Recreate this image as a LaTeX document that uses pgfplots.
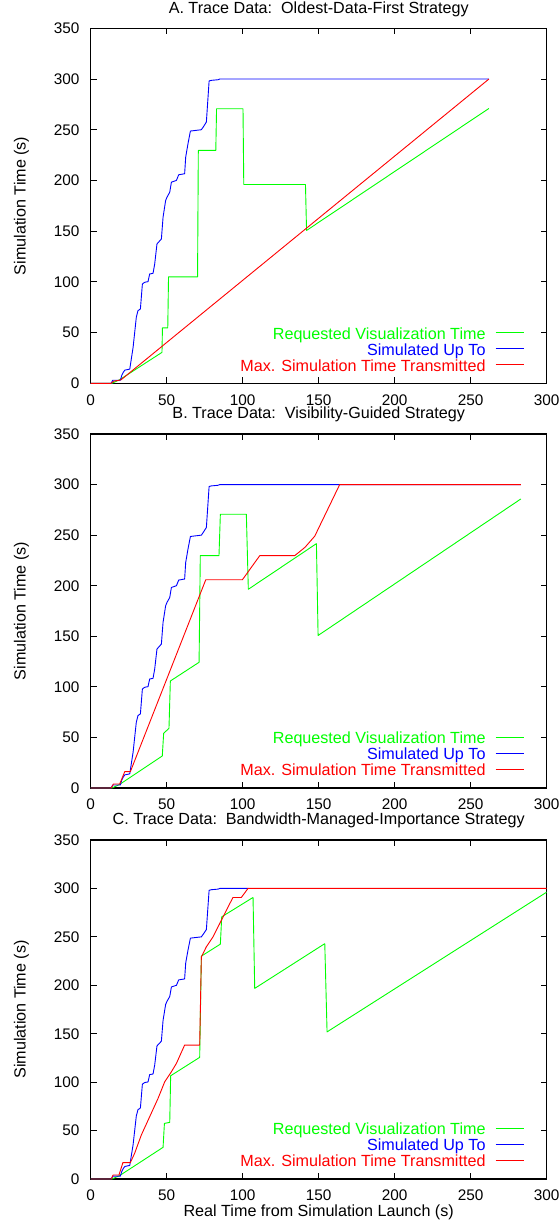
\documentclass[border=0pt]{standalone}
\usepackage{pgfplots}
\pgfplotsset{compat=1.18}
\usepackage{fontspec}
\setmainfont{Liberation Sans}
\newfontfamily\greenfont[Color=00FF00]{Liberation Sans}
\newfontfamily\bluefont[Color=0000FF]{Liberation Sans}
\newfontfamily\redfont[Color=FF0000]{Liberation Sans}
\definecolor{gpgreen}{RGB}{0,255,0}
\definecolor{gpblue}{RGB}{0,0,255}
\definecolor{gpred}{RGB}{255,0,0}

\pgfplotsset{
  tracebox/.style={
    scale only axis, width=456bp,
    xmin=0, xmax=300, ymin=0, ymax=350,
    xtick={0,50,...,300}, ytick={0,50,...,350},
    tick align=inside, major tick length=6bp,
    every tick/.style={draw=black, line width=0.8bp},
    axis line style={draw=black, line width=1.2bp},
    font=\fontsize{16.2}{19}\selectfont,
    tick label style={font=\fontsize{15.4}{18}\selectfont, inner sep=0.5bp},
    /pgf/number format/assume math mode=true,
    xticklabel style={yshift=-10.5bp},
    yticklabel style={xshift=-10.5bp},
    ylabel={Simulation Time (s)},
    ylabel style={at={(axis description cs:-0.152,0.5)}, anchor=center},
    title style={at={(axis description cs:0.5,1)}, anchor=base, yshift=9.3bp, inner sep=0.5bp},
    every axis plot/.append style={line width=0.9bp, line join=round},
  }
}

% gnuplot-style key: right-aligned text, sample line to its right
\newcommand\tracekey{%
  \node[anchor=base east, inner sep=0pt, font=\fontsize{16.2}{19}\selectfont]
    at ([xshift=-61bp,yshift=44.2bp]axis description cs:1,0) {\greenfont Requested Visualization Time};
  \node[anchor=base east, inner sep=0pt, font=\fontsize{16.2}{19}\selectfont]
    at ([xshift=-61bp,yshift=28.2bp]axis description cs:1,0) {\bluefont Simulated Up To};
  \node[anchor=base east, inner sep=0pt, font=\fontsize{16.2}{19}\selectfont]
    at ([xshift=-61bp,yshift=12.2bp]axis description cs:1,0) {\redfont Max. Simulation Time Transmitted};
  \draw[draw=gpgreen, line width=1.1bp] ([xshift=-51bp,yshift=50.5bp]axis description cs:1,0) -- ++(28bp,0bp);
  \draw[draw=gpblue, line width=1.1bp] ([xshift=-51bp,yshift=34.5bp]axis description cs:1,0) -- ++(28bp,0bp);
  \draw[draw=gpred, line width=1.1bp] ([xshift=-51bp,yshift=18.5bp]axis description cs:1,0) -- ++(28bp,0bp);
}

\begin{document}
\begin{tikzpicture}
\useasboundingbox (0,0) rectangle (560bp,-1220bp);

% A
\begin{axis}[tracebox, height=355bp, at={(90.7bp,-383.3bp)}, anchor=south west,
  title={A. Trace Data:\ \ Oldest-Data-First Strategy}]
\addplot[draw=gpgreen] coordinates {(0,0)(14,0)(19,3.5)(46.9,30.5)(47.2,54.6)(50.7,54.6)(51.2,105)(70.3,105)(70.8,229.6)(82.3,229.6)(82.8,270.7)(100.2,270.7)(100.7,196)(141.3,196)(142,150.7)(262,271)};
\addplot[draw=gpblue] coordinates {(0,0)(13.5,0)(14.5,3)(19.5,3)(20.5,8)(21.5,11)(22.5,13)(25.7,14)(27.9,35.5)(30,65)(31.1,71.6)(32.7,73.3)(34,97.9)(35.5,99.6)(37.7,100.2)(38.8,107.8)(41,108.4)(42.1,117.6)(43.6,137.4)(46.5,142.3)(47.6,163.7)(49.3,180.2)(50.2,183.5)(52,188.4)(53.1,198.3)(56.4,200)(57.9,205.6)(61.8,206.6)(62.5,223)(64,236.2)(65.6,248.7)(72.8,250)(74.3,253.3)(76.1,257.6)(77.9,298.1)(79.4,298.7)(83.8,299.3)(84.9,300)(262,300)};
\addplot[draw=gpred] coordinates {(0,0)(13.5,0)(15,2)(18.5,3)(20,3.5)(262,300)};
\tracekey
\end{axis}

% B
\begin{axis}[tracebox, height=354bp, at={(90.7bp,-788bp)}, anchor=south west,
  title={B. Trace Data:\ \ Visibility-Guided Strategy}]
\addplot[draw=gpgreen] coordinates {(0,0)(14,0)(19,3.5)(47.1,31.7)(48,54.1)(51.5,59)(52.4,105.8)(71.3,124.3)(72.1,229.8)(84.4,229.8)(85.3,270.7)(102.4,270.7)(103.7,196.5)(148.5,241.6)(149.6,150.8)(283,285.8)};
\addplot[draw=gpblue] coordinates {(0,0)(13.5,0)(14.5,3)(19.5,3)(20.5,8)(21.5,11)(22.5,13)(25.7,14)(27.9,35.5)(30,65)(31.1,71.6)(32.7,73.3)(34,97.9)(35.5,99.6)(37.7,100.2)(38.8,107.8)(41,108.4)(42.1,117.6)(43.6,137.4)(46.5,142.3)(47.6,163.7)(49.3,180.2)(50.2,183.5)(52,188.4)(53.1,198.3)(56.4,200)(57.9,205.6)(61.8,206.6)(62.5,223)(64,236.2)(65.6,248.7)(72.8,250)(74.3,253.3)(76.1,257.6)(77.9,298.1)(79.4,298.7)(83.8,299.3)(84.9,300)(283,300)};
\addplot[draw=gpred] coordinates {(0,0)(13.5,0)(15,4)(19.1,4)(22.4,16.2)(26.1,16.2)(75.7,205.9)(99.8,205.9)(111.2,229.7)(134.2,229.7)(141,238)(147.4,249)(163.8,300)(283,300)};
\tracekey
\end{axis}

% C
\begin{axis}[tracebox, height=339bp, at={(90.7bp,-1179bp)}, anchor=south west,
  title={C. Trace Data:\ \ Bandwidth-Managed-Importance Strategy},
  xlabel={Real Time from Simulation Launch (s)},
  xlabel style={at={(axis description cs:0.5,0)}, anchor=base, yshift=-37bp}]
\addplot[draw=gpgreen] coordinates {(0,0)(14,0)(19,3.5)(47.6,32.7)(48.5,57.4)(52,58.5)(52.6,106.6)(71.7,125.6)(72.8,230.1)(85.3,242.5)(86.2,270.7)(106.8,290.7)(107.9,196.8)(154,243)(155.5,151.9)(300,296.2)};
\addplot[draw=gpblue] coordinates {(0,0)(13.5,0)(14.5,3)(19.5,3)(20.5,8)(21.5,11)(22.5,13)(25.7,14)(27.9,35.5)(30,65)(31.1,71.6)(32.7,73.3)(34,97.9)(35.5,99.6)(37.7,100.2)(38.8,107.8)(41,108.4)(42.1,117.6)(43.6,137.4)(46.5,142.3)(47.6,163.7)(49.3,180.2)(50.2,183.5)(52,188.4)(53.1,198.3)(56.4,200)(57.9,205.6)(61.8,206.6)(62.5,223)(64,236.2)(65.6,248.7)(72.8,250)(74.3,253.3)(76.1,257.6)(77.9,298.1)(79.4,298.7)(83.8,299.3)(84.9,300)(103.5,300)};
\addplot[draw=gpred] coordinates {(0,0)(13.6,0)(14.7,4.1)(18.6,4.1)(21.2,17)(26.1,17)(28.9,26.5)(33.3,45.4)(38.8,64.3)(44.3,83.2)(48.7,100.4)(53.1,110.8)(56.4,119.4)(61.8,138.3)(71.7,138.3)(72.8,229.4)(76.1,239.8)(80.5,250.1)(84.9,263.8)(89.3,277.6)(93.6,290.7)(99.1,290.7)(103.5,300)(300,300)};
\tracekey
\end{axis}
\end{tikzpicture}
\end{document}
